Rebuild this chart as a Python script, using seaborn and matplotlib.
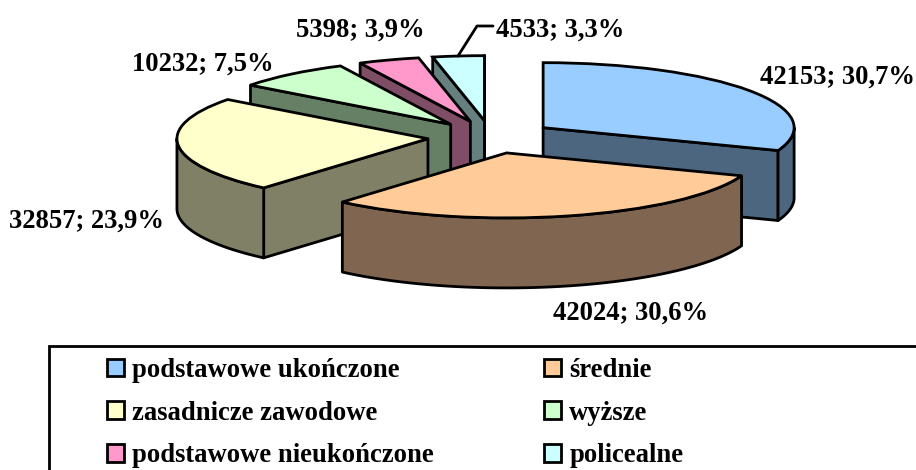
import numpy as np
import matplotlib
matplotlib.use("Agg")
import matplotlib.pyplot as plt
from matplotlib.patches import Polygon, Rectangle
import seaborn as sns

categories = ['podstawowe ukończone', 'średnie', 'zasadnicze zawodowe', 'wyższe',
              'podstawowe nieukończone', 'policealne']
values = [42153, 42024, 32857, 10232, 5398, 4533]
percents = ['30,7', '30,6', '23,9', '7,5', '3,9', '3,3']

top_colors = ['#99CCFF', '#FFCC99', '#FFFFCC', '#CCFFCC', '#FF99CC', '#CCFFFF']
side_colors = ['#4D6680', '#806650', '#808066', '#668066', '#804D66', '#668080']
draw_order = [5, 4, 3, 0, 2, 1]  # od tylu do przodu
legend_order = [0, 2, 4, 1, 3, 5]  # legenda czytana wierszami

# srodki podpisow w pikselach obrazka
label_pos = [(838, 77), (631, 313), (86, 221), (203, 64), (360, 30), (560, 30)]

W, H = 916, 470
CX, CY = 491, 137   # srodek kola w pikselach
RX, RY = 251, 65    # polosie elipsy
DEPTH = 70 / RY     # grubosc w jednostkach osi y
LW = 2.0
FONT = 19.15

sns.set_theme(style="white")
plt.rcParams['font.family'] = ['Liberation Serif', 'DejaVu Sans']
plt.rcParams['font.weight'] = 'bold'
plt.rcParams['font.size'] = FONT


def to_data(px, py):
    return (px - CX) / RX, (CY - py) / RY


fig = plt.figure(figsize=(W / 100, H / 100), dpi=100)
ax = fig.add_axes([0, 0, 1, 1])

palette = sns.color_palette(top_colors)
wedges, _ = ax.pie(values, colors=palette, startangle=90, counterclock=False,
                   explode=[0.2526] * len(values), radius=1,
                   wedgeprops=dict(edgecolor='black', linewidth=LW))
ax.set_aspect('auto')
ax.set_xlim(-CX / RX, (W - CX) / RX)
ax.set_ylim(-(H - CY) / RY, CY / RY)


def add_side(points, color, z):
    ax.add_patch(Polygon(points, closed=True, facecolor=color, edgecolor='black',
                         linewidth=LW, joinstyle='round', zorder=z))


# boczne scianki liczone z katow klinow zwroconych przez pie
for rank, i in enumerate(draw_order):
    w = wedges[i]
    z = 2 * rank + 2
    w.set_zorder(z + 1)
    cx, cy = w.center
    # sciany promieniowe, tylko te zwrocone do widza
    for ang, visible in ((w.theta1, np.cos(np.radians(w.theta1)) > 0),
                         (w.theta2, np.cos(np.radians(w.theta2)) < 0)):
        if visible:
            ex = cx + np.cos(np.radians(ang))
            ey = cy + np.sin(np.radians(ang))
            add_side([(cx, cy), (ex, ey), (ex, ey - DEPTH), (cx, cy - DEPTH)], side_colors[i], z)
    # zewnetrzny luk, widoczna tylko dolna polowa elipsy
    a0 = max(w.theta1, -180)
    a1 = min(w.theta2, 0)
    if a1 > a0:
        t = np.radians(np.linspace(a0, a1, 80))
        xs = cx + np.cos(t)
        ys = cy + np.sin(t)
        upper = np.column_stack([xs, ys])
        lower = np.column_stack([xs, ys - DEPTH])[::-1]
        add_side(np.vstack([upper, lower]), side_colors[i], z)

for i in range(len(values)):
    tx, ty = to_data(*label_pos[i])
    ax.text(tx, ty, f'{values[i]}; {percents[i]}%', ha='center', va='center',
            color='black', zorder=20)

# linia odniesienia do najmniejszego wycinka
lead = [to_data(458, 56), to_data(477, 26), to_data(493, 26)]
ax.plot([p[0] for p in lead], [p[1] for p in lead], color='black', lw=LW, zorder=20)

# ramka legendy wychodzi poza obrazek
fig.add_artist(Rectangle((49 / W, -0.1), 1.1, 1 - 346 / H + 0.1, transform=fig.transFigure,
                         facecolor='none', edgecolor='black', linewidth=LW))

leg = ax.legend([wedges[i] for i in legend_order], [categories[i] for i in legend_order],
                ncol=2, loc='upper left', fontsize=FONT,
                bbox_to_anchor=(107 / W, 1 - 358 / H), bbox_transform=fig.transFigure,
                frameon=False, borderaxespad=0, borderpad=0,
                handlelength=0.64, handleheight=0.64, handletextpad=0.3,
                labelspacing=0.66, columnspacing=4.15, labelcolor='black')
leg.set_zorder(30)

fig.savefig('out.png', dpi=100)
